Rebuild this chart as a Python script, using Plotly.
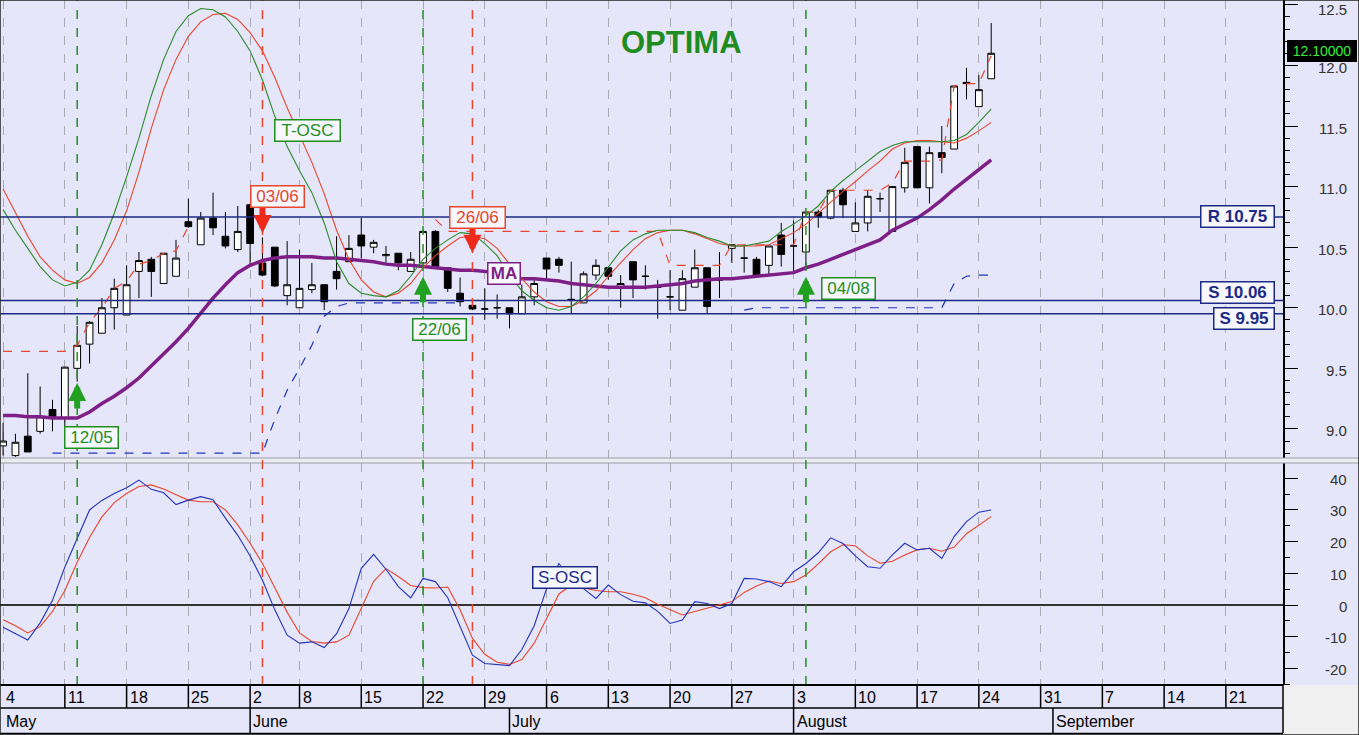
import plotly.graph_objects as go
from plotly.subplots import make_subplots

# trading days (1 June was a holiday)
dates = [
    '2009-05-04', '2009-05-05', '2009-05-06', '2009-05-07', '2009-05-08',
    '2009-05-11', '2009-05-12', '2009-05-13', '2009-05-14', '2009-05-15',
    '2009-05-18', '2009-05-19', '2009-05-20', '2009-05-21', '2009-05-22',
    '2009-05-25', '2009-05-26', '2009-05-27', '2009-05-28', '2009-05-29',
    '2009-06-02', '2009-06-03', '2009-06-04', '2009-06-05',
    '2009-06-08', '2009-06-09', '2009-06-10', '2009-06-11', '2009-06-12',
    '2009-06-15', '2009-06-16', '2009-06-17', '2009-06-18', '2009-06-19',
    '2009-06-22', '2009-06-23', '2009-06-24', '2009-06-25', '2009-06-26',
    '2009-06-29', '2009-06-30', '2009-07-01', '2009-07-02', '2009-07-03',
    '2009-07-06', '2009-07-07', '2009-07-08', '2009-07-09', '2009-07-10',
    '2009-07-13', '2009-07-14', '2009-07-15', '2009-07-16', '2009-07-17',
    '2009-07-20', '2009-07-21', '2009-07-22', '2009-07-23', '2009-07-24',
    '2009-07-27', '2009-07-28', '2009-07-29', '2009-07-30', '2009-07-31',
    '2009-08-03', '2009-08-04', '2009-08-05', '2009-08-06', '2009-08-07',
    '2009-08-10', '2009-08-11', '2009-08-12', '2009-08-13', '2009-08-14',
    '2009-08-17', '2009-08-18', '2009-08-19', '2009-08-20', '2009-08-21',
    '2009-08-24', '2009-08-25',
]

opens = [
    8.86, 8.78, 8.94, 8.98, 9.16, 9.09, 9.50, 9.70, 9.79, 10.00,
    9.94, 10.30, 10.40, 10.20, 10.26, 10.71, 10.52, 10.74, 10.59, 10.48,
    10.85, 10.37, 10.50, 10.10, 10.00, 10.15, 10.19, 10.30, 10.38, 10.60,
    10.50, 10.43, 10.45, 10.30, 10.37, 10.63, 10.33, 10.12, 10.02, 9.99,
    10.00, 10.00, 9.95, 10.09, 10.41, 10.40, 10.07, 10.04, 10.27, 10.33,
    10.16, 10.38, 10.26, 10.17, 10.09, 9.98, 10.17, 10.33, 10.23, 10.49,
    10.41, 10.40, 10.35, 10.60, 10.51, 10.46, 10.79, 10.74, 10.97, 10.63,
    10.70, 10.90, 10.63, 10.99, 11.33, 10.99, 11.28, 11.31, 11.86, 11.66,
    11.89,
]
highs = [
    9.05, 8.96, 9.46, 9.35, 9.24, 9.51, 9.85, 9.89, 10.08, 10.24,
    10.35, 10.46, 10.42, 10.45, 10.56, 10.90, 10.79, 10.95, 10.79, 10.84,
    10.86, 10.58, 10.50, 10.55, 10.48, 10.37, 10.19, 10.59, 10.60, 10.74,
    10.56, 10.51, 10.45, 10.46, 10.64, 10.64, 10.33, 10.25, 10.03, 10.16,
    10.11, 10.00, 10.19, 10.23, 10.41, 10.42, 10.38, 10.30, 10.40, 10.34,
    10.27, 10.38, 10.35, 10.23, 10.31, 10.31, 10.48, 10.33, 10.46, 10.52,
    10.52, 10.42, 10.51, 10.70, 10.72, 10.79, 10.81, 10.97, 10.99, 10.87,
    10.97, 10.95, 11.00, 11.32, 11.33, 11.33, 11.50, 11.83, 11.98, 11.92,
    12.35,
]
lows = [
    8.78, 8.77, 8.81, 8.96, 8.98, 9.02, 9.39, 9.54, 9.79, 9.82,
    9.94, 10.08, 10.09, 10.20, 10.26, 10.66, 10.52, 10.60, 10.49, 10.46,
    10.35, 10.26, 10.17, 10.02, 10.00, 10.12, 9.98, 10.15, 10.38, 10.41,
    10.45, 10.37, 10.31, 10.30, 10.36, 10.34, 10.13, 10.01, 9.98, 9.90,
    9.91, 9.83, 9.95, 10.02, 10.24, 10.29, 9.95, 10.04, 10.23, 10.23,
    10.00, 10.08, 10.15, 9.91, 9.98, 9.98, 10.17, 9.95, 10.08, 10.37,
    10.29, 10.27, 10.26, 10.34, 10.29, 10.34, 10.66, 10.73, 10.74, 10.63,
    10.63, 10.79, 10.63, 10.95, 10.99, 10.86, 11.11, 11.31, 11.72, 11.66,
    11.89,
]
closes = [
    8.90, 8.89, 8.81, 9.10, 9.10, 9.51, 9.69, 9.88, 10.00, 10.16,
    10.19, 10.39, 10.30, 10.45, 10.41, 10.67, 10.74, 10.66, 10.51, 10.63,
    10.53, 10.27, 10.18, 10.19, 10.16, 10.19, 10.05, 10.24, 10.49, 10.51,
    10.54, 10.44, 10.37, 10.40, 10.63, 10.34, 10.16, 10.05, 9.99, 9.99,
    10.00, 9.95, 10.09, 10.20, 10.32, 10.35, 10.06, 10.28, 10.35, 10.26,
    10.20, 10.23, 10.26, 10.17, 10.09, 10.24, 10.33, 10.01, 10.23, 10.52,
    10.41, 10.27, 10.51, 10.44, 10.51, 10.79, 10.75, 10.97, 10.85, 10.70,
    10.92, 10.90, 11.00, 11.20, 10.99, 11.28, 11.24, 11.83, 11.85, 11.80,
    12.10,
]

# moving average (purple)
ma = [
    9.11, 9.11, 9.10, 9.10, 9.09, 9.09, 9.09, 9.14, 9.21, 9.27,
    9.34, 9.42, 9.52, 9.61, 9.72, 9.83, 9.96, 10.08, 10.19, 10.29,
    10.35, 10.39, 10.41, 10.42, 10.42, 10.42, 10.41, 10.41, 10.40, 10.39,
    10.38, 10.36, 10.35, 10.35, 10.34, 10.33, 10.32, 10.31, 10.31, 10.30,
    10.29, 10.27, 10.24, 10.24, 10.23, 10.22, 10.20, 10.19, 10.18, 10.17,
    10.17, 10.17, 10.17, 10.18, 10.19, 10.20, 10.22, 10.23, 10.24, 10.24,
    10.25, 10.26, 10.27, 10.28, 10.29, 10.33, 10.36, 10.40, 10.44, 10.48,
    10.52, 10.56, 10.64, 10.69, 10.74, 10.81, 10.89, 10.98, 11.06, 11.14,
    11.22,
]

# T-OSC pair (green leads, red lags)
tosc_fast = [
    10.81, 10.64, 10.49, 10.34, 10.23, 10.18, 10.21, 10.31, 10.52, 10.78,
    11.08, 11.40, 11.75, 12.05, 12.28, 12.41, 12.47, 12.46, 12.40, 12.28,
    12.12, 11.88, 11.58, 11.33, 11.13, 10.95, 10.70, 10.38, 10.20, 10.12,
    10.10, 10.09, 10.14, 10.26, 10.40, 10.49, 10.56, 10.62, 10.61, 10.53,
    10.43, 10.27, 10.14, 10.06, 10.00, 9.98, 10.01, 10.09, 10.20, 10.34,
    10.47, 10.56, 10.61, 10.64, 10.64, 10.64, 10.62, 10.58, 10.55, 10.51,
    10.51, 10.53, 10.55, 10.63, 10.69, 10.76, 10.84, 10.96, 11.05, 11.13,
    11.21, 11.29, 11.34, 11.37, 11.37, 11.37, 11.37, 11.38, 11.43, 11.53,
    11.64,
]
tosc_slow = [
    10.98, 10.79, 10.59, 10.42, 10.31, 10.23, 10.20, 10.25, 10.37, 10.56,
    10.80, 11.12, 11.48, 11.80, 12.05, 12.24, 12.36, 12.42, 12.43, 12.38,
    12.27, 12.12, 11.90, 11.65, 11.43, 11.20, 10.94, 10.64, 10.40, 10.23,
    10.13, 10.09, 10.12, 10.20, 10.33, 10.43, 10.51, 10.58, 10.59, 10.57,
    10.49, 10.36, 10.24, 10.13, 10.05, 10.01, 10.01, 10.06, 10.14, 10.26,
    10.37, 10.48, 10.57, 10.62, 10.64, 10.64, 10.61, 10.57, 10.53, 10.51,
    10.51, 10.51, 10.52, 10.57, 10.62, 10.69, 10.78, 10.87, 10.96, 11.04,
    11.13, 11.21, 11.31, 11.36, 11.38, 11.38, 11.37, 11.36, 11.40, 11.46,
    11.53,
]

# trailing stop levels (None = not drawn)
stop_high = [
    9.64, 9.64, 9.64, 9.64, 9.64, 9.64, 9.69, 9.88, 10.00, 10.16,
    10.22, 10.36, 10.39, 10.45, 10.47, 10.67, None, None, None, None,
    None, None, None, None, None, None, None, None, None, None,
    None, None, None, None, None, 10.73, 10.63, 10.63, 10.63, 10.63,
    10.63, 10.63, 10.63, 10.63, 10.63, 10.63, 10.63, 10.63, 10.63, 10.63,
    10.63, 10.63, 10.63, 10.63, 10.35, 10.35, 10.35, 10.35, 10.35, 10.52,
    10.52, 10.52, 10.52, 10.52, 10.52, 10.79, 10.79, 10.97, 10.97, 10.97,
    10.97, 10.97, 11.03, 11.21, 11.21, 11.21, 11.22, 11.83, 11.85, 11.85,
    12.08,
]
stop_low = [
    None, None, None, None, 8.80, 8.80, 8.80, 8.80, 8.80, 8.80,
    8.80, 8.80, 8.80, 8.80, 8.80, 8.80, 8.80, 8.80, 8.80, 8.80,
    8.80, 8.80, 9.08, 9.32, 9.50, 9.69, 9.93, 10.01, 10.04, 10.04,
    10.04, 10.04, 10.04, 10.04, 10.04, 10.04, 10.04, 10.04, None, None,
    None, None, None, None, None, None, None, None, None, None,
    None, None, None, None, None, None, None, None, None, None,
    9.98, 10.00, 10.00, 10.00, 10.00, 10.00, 10.00, 10.00, 10.00, 10.00,
    10.00, 10.00, 10.00, 10.00, 10.00, 10.00, 10.00, 10.20, 10.26, 10.27,
    10.27,
]

# S-OSC (lower panel)
sosc = [
    -7.0, -9.0, -11.0, -5.6, 1.5, 12.0, 21.0, 30.0, 33.0, 35.2,
    37.0, 39.4, 36.5, 35.4, 31.7, 33.1, 34.2, 33.2, 27.4, 22.0,
    15.5, 7.8, -1.5, -9.5, -12.0, -11.6, -13.4, -9.0, -1.1, 11.6,
    16.0, 11.3, 5.8, 2.3, 8.4, 7.4, 2.3, -6.8, -15.8, -18.4,
    -18.8, -19.1, -14.0, -6.5, 5.2, 13.1, 7.6, 5.2, 2.1, 6.3,
    3.3, 1.2, 0.7, -2.0, -5.8, -4.7, 1.1, 0.5, -1.1, 0.5,
    8.4, 8.2, 7.4, 5.8, 10.5, 13.1, 16.5, 21.2, 19.4, 15.5,
    12.1, 11.6, 15.8, 19.5, 17.4, 17.9, 14.7, 21.6, 26.3, 29.3,
    30.0,
]
sosc_signal = [
    -4.6, -6.5, -8.8, -6.8, -2.0, 4.6, 13.5, 21.3, 27.8, 32.3,
    35.2, 37.4, 37.9, 36.6, 34.8, 33.1, 32.6, 32.6, 30.0, 25.3,
    19.5, 13.1, 5.5, -2.3, -8.8, -11.5, -12.0, -11.6, -9.5, -0.8,
    7.5, 11.5, 9.0, 6.2, 5.5, 5.4, 5.7, -1.5, -10.5, -15.5,
    -18.0, -18.7, -17.2, -12.0, -4.5, 3.5, 6.2, 5.3, 4.6, 4.2,
    4.2, 3.4, 2.3, 0.3, -1.5, -3.1, -2.0, -1.0, 0.0, 1.1,
    4.0, 6.0, 7.6, 6.8, 7.4, 9.5, 13.0, 16.8, 19.0, 18.7,
    15.5, 13.2, 13.8, 15.8, 17.4, 17.9, 17.0, 18.3, 22.5, 25.3,
    27.9,
]

week_ticks = [
    '2009-05-04', '2009-05-11', '2009-05-18', '2009-05-25', '2009-06-02',
    '2009-06-08', '2009-06-15', '2009-06-22', '2009-06-29', '2009-07-06',
    '2009-07-13', '2009-07-20', '2009-07-27', '2009-08-03', '2009-08-10',
    '2009-08-17', '2009-08-24', '2009-08-31', '2009-09-07', '2009-09-14',
    '2009-09-21',
]
week_labels = ['4', '11', '18', '25', '2', '8', '15', '22', '29', '6', '13',
               '20', '27', '3', '10', '17', '24', '31', '7', '14', '21']
month_starts = ['2009-05-04', '2009-06-02', '2009-07-01', '2009-08-03', '2009-09-01']
month_labels = ['May', 'June', 'July', 'August', 'September']

levels = [10.75, 10.06, 9.95]
level_labels = ['R 10.75', 'S 10.06', 'S 9.95']

buy_dates = ['2009-05-12', '2009-06-22', '2009-08-04']
buy_labels = ['12/05', '22/06', '04/08']
sell_dates = ['2009-06-03', '2009-06-26']
sell_labels = ['03/06', '26/06']

price_ticks = [9.0, 9.5, 10.0, 10.5, 11.0, 11.5, 12.0, 12.5]
osc_ticks = [-20, -10, 0, 10, 20, 30, 40]
last_price = 12.1

GREEN = '#1f8f1f'
RED = '#e8452c'
NAVY = '#1c2a85'
PURPLE = '#7d1f87'
BLUE = '#2233bb'
BG = '#e6e6fa'
FONT = 'Arial, Liberation Sans, sans-serif'
FIG_W, PLOT_W, PLOT_H = 1359, 1283, 685
XR = FIG_W / PLOT_W  # paper x of the right figure edge


def py(px):
    # paper y from a pixel row inside the plotting height
    return 1 - px / PLOT_H


fig = make_subplots(rows=2, cols=1, shared_xaxes=True)

fig.add_trace(go.Candlestick(
    x=dates, open=opens, high=highs, low=lows, close=closes,
    increasing=dict(line=dict(color='black', width=1), fillcolor='white'),
    decreasing=dict(line=dict(color='black', width=1), fillcolor='black'),
    whiskerwidth=0, hoverinfo='skip', showlegend=False), row=1, col=1)

for ys, color, width, dash in [
        (stop_high, RED, 1.2, 'dash'), (stop_low, BLUE, 1.2, 'dash'),
        (ma, PURPLE, 3.5, 'solid'),
        (tosc_slow, RED, 1.1, 'solid'), (tosc_fast, '#2a8a2a', 1.1, 'solid')]:
    fig.add_trace(go.Scatter(x=dates, y=ys, mode='lines', connectgaps=False,
                             line=dict(color=color, width=width, dash=dash),
                             hoverinfo='skip', showlegend=False), row=1, col=1)

fig.add_trace(go.Scatter(x=dates, y=sosc_signal, mode='lines', line=dict(color=RED, width=1.1),
                         hoverinfo='skip', showlegend=False), row=2, col=1)
fig.add_trace(go.Scatter(x=dates, y=sosc, mode='lines', line=dict(color=BLUE, width=1.1),
                         hoverinfo='skip', showlegend=False), row=2, col=1)

fig.update_xaxes(
    range=['2009-05-01 18:00', '2009-09-25 15:00'],
    rangebreaks=[dict(bounds=['sat', 'mon']), dict(values=['2009-06-01'])],
    tickvals=week_ticks, showticklabels=False, ticks='',
    showgrid=True, gridcolor='#a9a9b4', griddash='dash', gridwidth=1,
    showline=False, zeroline=False, rangeslider_visible=False)

# right-hand value axes: ticks from plotly, labels right-aligned below
fig.update_layout(
    yaxis=dict(domain=[py(458), 1], range=[8.76, 12.54], side='right',
               tickvals=price_ticks, showticklabels=False,
               ticks='outside', ticklen=13, tickcolor='black', tickwidth=1,
               minor=dict(tickmode='linear', tick0=0, dtick=0.1, ticks='outside',
                          ticklen=5, tickcolor='black', showgrid=False),
               showgrid=False, zeroline=False, showline=True, linecolor='black',
               linewidth=1.5, automargin=False),
    yaxis2=dict(domain=[0, py(463)], range=[-25.2, 44.8], side='right',
                tickvals=osc_ticks, showticklabels=False,
                ticks='outside', ticklen=13, tickcolor='black', tickwidth=1,
                minor=dict(tickmode='linear', tick0=0, dtick=5, ticks='outside',
                           ticklen=5, tickcolor='black', showgrid=False),
                showgrid=False, zeroline=True, zerolinecolor='#333333', zerolinewidth=1.5,
                showline=True, linecolor='black', linewidth=1.5, automargin=False),
)

shapes = []
# gap between panels and the empty corner bottom right
shapes.append(dict(type='rect', xref='paper', yref='paper', x0=0, x1=XR, y0=py(463), y1=py(458),
                   fillcolor='#ececf2', line=dict(color='#9c9ca6', width=1), layer='above'))
shapes.append(dict(type='rect', xref='paper', yref='paper', x0=1, x1=XR, y0=py(735), y1=0,
                   fillcolor='#f0f0f0', line=dict(width=0)))

for lv in levels:
    shapes.append(dict(type='line', xref='paper', x0=0, x1=1, yref='y', y0=lv, y1=lv,
                       line=dict(color=NAVY, width=1.5)))

for d, color in [(d, GREEN) for d in buy_dates] + [(d, RED) for d in sell_dates]:
    shapes.append(dict(type='line', xref='x', x0=d, x1=d, yref='paper', y0=0, y1=1,
                       line=dict(color=color, width=1.5, dash='dash')))

# date band under the plot
for px_row, w in [(685, 2), (708, 1.5), (733.5, 1.5)]:
    shapes.append(dict(type='line', xref='paper', x0=0, x1=1, yref='paper',
                       y0=py(px_row), y1=py(px_row), line=dict(color='black', width=w)))
for d in week_ticks[1:]:
    shapes.append(dict(type='line', xref='x', x0=d, x1=d, yref='paper', y0=py(685), y1=py(708),
                       line=dict(color='black', width=1.5)))
for d in month_starts[1:]:
    shapes.append(dict(type='line', xref='x', x0=d, x1=d, yref='paper', y0=py(708), y1=py(733),
                       line=dict(color='black', width=1.5)))
shapes.append(dict(type='line', xref='paper', x0=1, x1=1, yref='paper', y0=py(733), y1=py(685),
                   line=dict(color='black', width=1.5)))
# outer frame
shapes.append(dict(type='rect', xref='paper', yref='paper', x0=0, x1=XR, y0=py(735), y1=1,
                   line=dict(color='#222222', width=1.5)))

annotations = []
axis_font = dict(family=FONT, size=15, color='#333333')
for v in price_ticks:
    # the top label sits a little lower so it stays inside the window
    annotations.append(dict(x=1349 / PLOT_W, xref='paper', y=v, yref='y', text=f'{v:.1f}',
                            showarrow=False, xanchor='right', yanchor='middle',
                            yshift=-5 if v == price_ticks[-1] else -2, font=axis_font))
for v in osc_ticks:
    annotations.append(dict(x=1349 / PLOT_W, xref='paper', y=v, yref='y2', text=str(v),
                            showarrow=False, xanchor='right', yanchor='middle', yshift=-1,
                            font=axis_font))

for d, t in zip(week_ticks, week_labels):
    annotations.append(dict(x=d, xref='x', y=py(697), yref='paper', text=t, showarrow=False,
                            xanchor='left', yanchor='middle', xshift=1,
                            font=dict(family=FONT, size=16, color='black')))
for d, t in zip(month_starts, month_labels):
    annotations.append(dict(x=d, xref='x', y=py(721), yref='paper', text=t, showarrow=False,
                            xanchor='left', yanchor='middle', xshift=1,
                            font=dict(family=FONT, size=16, color='black')))


def boxed(text, x, y, color, width, xref='x', yref='y', xanchor='left', xshift=0, bold=False):
    return dict(x=x, y=y, xref=xref, yref=yref, text=f'<b>{text}</b>' if bold else text,
                showarrow=False, xanchor=xanchor, yanchor='middle', xshift=xshift,
                font=dict(family=FONT, size=17, color=color),
                bgcolor='#f7f7ff', bordercolor=color, borderwidth=1.5, borderpad=1,
                width=width, height=18)


# buy / sell arrows and their date boxes
for d, tip in zip(buy_dates, [9.38, 10.255, 10.255]):
    annotations.append(dict(x=d, y=tip, xref='x', yref='y', text='', showarrow=True,
                            ax=0, ay=27, arrowhead=2, arrowsize=0.6, arrowwidth=6,
                            arrowcolor='#22a022', standoff=0))
for d, tip in zip(sell_dates, [10.618, 10.453]):
    annotations.append(dict(x=d, y=tip, xref='x', yref='y', text='', showarrow=True,
                            ax=0, ay=-27, arrowhead=2, arrowsize=0.6, arrowwidth=6,
                            arrowcolor='#ee2a1c', standoff=0))

annotations.append(boxed(buy_labels[0], '2009-05-11', 8.926, GREEN, 50, xshift=-1))
annotations.append(boxed(buy_labels[1], '2009-06-19', 9.821, GREEN, 50, xshift=1))
annotations.append(boxed(buy_labels[2], '2009-08-05', 10.16, GREEN, 50, xshift=3))
annotations.append(boxed(sell_labels[0], '2009-06-02', 10.919, RED, 50))
annotations.append(boxed(sell_labels[1], '2009-06-24', 10.742, RED, 52, xshift=1))
annotations.append(boxed('T-OSC', '2009-06-04', 11.46, GREEN, 62, xshift=-1))
annotations.append(boxed('MA', '2009-06-29', 10.283, PURPLE, 29, xshift=2, bold=True))
annotations.append(boxed('S-OSC', '2009-07-03', 8.8, NAVY, 61, xref='x2', yref='y2', xshift=-2))

for lv, t, y, w in zip(levels, level_labels, [10.75, 10.127, 9.908], [70, 70, 57]):
    annotations.append(boxed(t, 1275 / PLOT_W, y, NAVY, w, xref='paper',
                             xanchor='right', bold=True))

annotations.append(dict(x=1287 / PLOT_W, xref='paper', y=last_price, yref='y', yshift=2,
                        text=f'{last_price:.5f}', showarrow=False, xanchor='left',
                        yanchor='middle', font=dict(family=FONT, size=14, color='#33ee33'),
                        bgcolor='black', bordercolor='black', borderwidth=1, borderpad=1,
                        width=66, height=18))

annotations.append(dict(x=681 / PLOT_W, xref='paper', y=py(43), yref='paper', text='<b>OPTIMA</b>',
                        showarrow=False, xanchor='center', yanchor='middle',
                        font=dict(family=FONT, size=31, color='#1e8c1e')))

fig.update_layout(
    width=FIG_W, height=735,
    margin=dict(l=0, r=FIG_W - PLOT_W, t=0, b=735 - PLOT_H, autoexpand=False),
    paper_bgcolor=BG, plot_bgcolor=BG, boxgap=0.22,
    showlegend=False, hovermode=False,
    shapes=shapes, annotations=annotations,
)

# drop the default page margin so the figure fills the window exactly
fig.write_html('out.html', config={'displayModeBar': False},
               post_script="document.body.style.margin='0px';"
                           "document.body.style.overflow='hidden';")
